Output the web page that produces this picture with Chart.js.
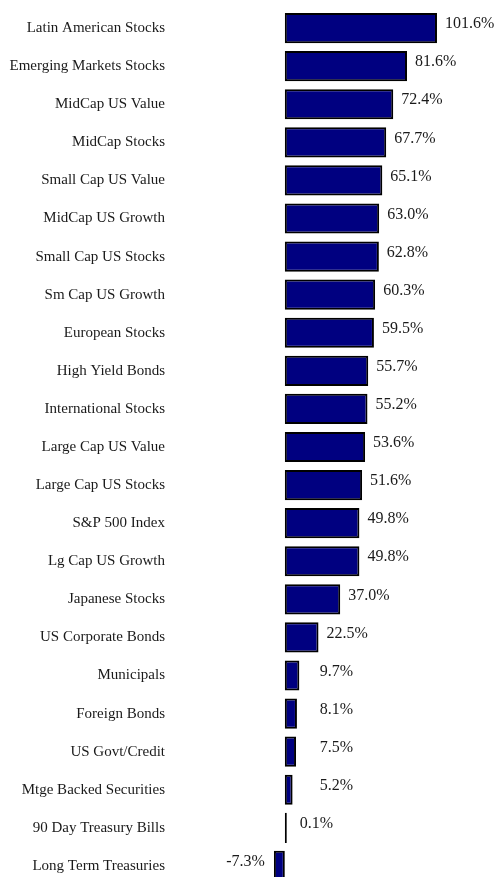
<!DOCTYPE html>
<html>
<head>
<meta charset="utf-8">
<script src="https://cdn.jsdelivr.net/npm/chart.js@4/dist/chart.umd.min.js"></script>
<style>
  html, body { margin: 0; padding: 0; background: #fff; overflow: hidden; }
  #wrap { width: 494px; height: 894px; }
</style>
</head>
<body>
<div id="wrap"><canvas id="mycanvas"></canvas></div>
<script>
// asset class returns, best to worst
var categories = [
    'Latin American Stocks', 'Emerging Markets Stocks', 'MidCap US Value', 'MidCap Stocks',
    'Small Cap US Value', 'MidCap US Growth', 'Small Cap US Stocks', 'Sm Cap US Growth',
    'European Stocks', 'High Yield Bonds', 'International Stocks', 'Large Cap US Value',
    'Large Cap US Stocks', 'S&P 500 Index', 'Lg Cap US Growth', 'Japanese Stocks',
    'US Corporate Bonds', 'Municipals', 'Foreign Bonds', 'US Govt/Credit',
    'Mtge Backed Securities', '90 Day Treasury Bills', 'Long Term Treasuries'
]
var returns = [
    101.6, 81.6, 72.4, 67.7, 65.1, 63.0, 62.8, 60.3, 59.5, 55.7, 55.2, 53.6,
    51.6, 49.8, 49.8, 37.0, 22.5, 9.7, 8.1, 7.5, 5.2, 0.1, -7.3
]

var labelFont = '16px "Liberation Serif", "Times New Roman", serif'

// percent labels next to the end of each bar
var valueLabels = {
    id: 'valueLabels',
    afterDatasetsDraw: function(chart){
        var ctx = chart.ctx
        var meta = chart.getDatasetMeta(0)
        var zero = chart.scales.x.getPixelForValue(0)
        ctx.save()
        ctx.font = labelFont
        ctx.fillStyle = '#1a1a1a'
        ctx.textBaseline = 'middle'
        meta.data.forEach(function(bar, i){
            var v = returns[i]
            var text = v.toFixed(1) + '%'
            var y = bar.y - 4
            if(v < 0){
                ctx.textAlign = 'right'
                ctx.fillText(text, bar.x - 9, y)
            }else{
                ctx.textAlign = 'left'
                var x = bar.x - zero < 3 ? bar.x + 13 : Math.max(bar.x + 8, zero + 35)
                ctx.fillText(text, x, y)
            }
        })
        ctx.restore()
    }
}

var context = document.getElementById('mycanvas').getContext('2d')

new Chart(context, {
    type: 'bar',
    data: {
        labels: categories,
        datasets: [{
            data: returns,
            backgroundColor: '#000080',
            borderColor: '#000',
            borderWidth: 2,
            borderSkipped: false,
            minBarLength: 2,
            barPercentage: 0.9,
            categoryPercentage: 0.88
        }]
    },
    options: {
        indexAxis: 'y',
        responsive: true,
        maintainAspectRatio: false,
        animation: false,
        layout: { padding: { top: 9, bottom: 0, right: 1, left: 0 } },
        plugins: {
            legend: { display: false },
            tooltip: { enabled: false }
        },
        scales: {
            x: {
                min: -80,
                max: 139,
                display: false
            },
            y: {
                grid: { display: false, drawTicks: false },
                border: { display: false },
                ticks: {
                    padding: 0,
                    color: '#1a1a1a',
                    font: { family: '"Liberation Serif", "Times New Roman", serif', size: 15 }
                },
                afterFit: function(scale){ scale.width = 165 }
            }
        }
    },
    plugins: [valueLabels]
})
</script>
</body>
</html>
